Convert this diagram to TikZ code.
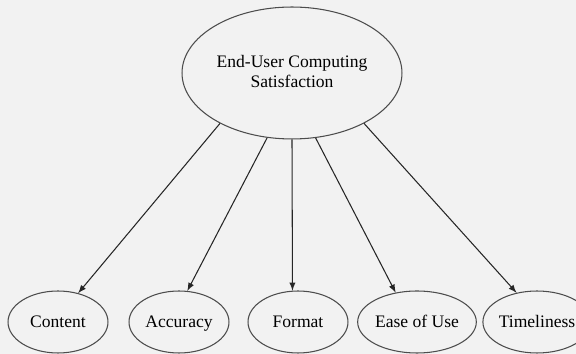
\documentclass[tikz,border=0pt]{standalone}
\usepackage{fontspec}
\setmainfont{Liberation Serif}
\usetikzlibrary{shapes.geometric, arrows}

\tikzset{
	factor/.style={draw=black!70, line width=0.6pt, ellipse, minimum width=2cm, minimum height=1.24cm, inner sep=0pt, text height=1.6ex, text depth=0.3ex, font=\fontsize{10}{12}\selectfont},
	link/.style={-latex, line width=0.6pt, black!85}
}

\begin{document}
\begin{tikzpicture}[x=0.02cm, y=-0.02cm]

%Background
\fill[black!5] (0,0) rectangle (576,354);
\useasboundingbox (0,0) rectangle (576,354);

%Top ellipse
\node[factor, minimum width=4.4cm, minimum height=2.64cm, align=center, text height=, text depth=, font=\fontsize{10}{11.5}\selectfont] (eucs) at (292,73) {End-User Computing\\Satisfaction\\[-10pt]};

%Dimensions
\foreach \x/\name/\txt in {58/content/Content, 179/accuracy/Accuracy, 298/format/Format, 417/ease/Ease of Use, 537/time/Timeliness}
{
	\node[factor] (\name) at (\x,322) {\txt};
}

%Arrows
\foreach \from/\to/\angle in {215/content/55, 249/accuracy/75, 270/format/100, 290/ease/126, 325/time/125}
{
	\draw[link] (eucs.\from) -- (\to.\angle);
}

\end{tikzpicture}
\end{document}
